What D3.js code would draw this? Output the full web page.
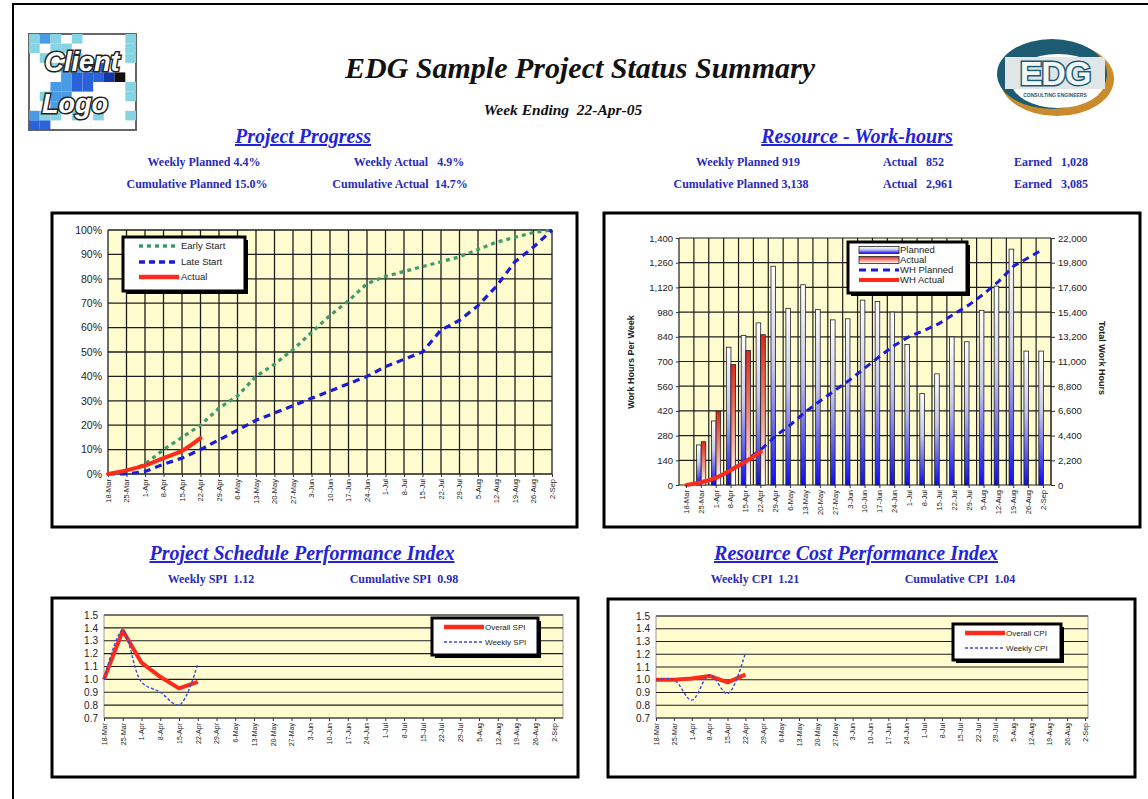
<!DOCTYPE html>
<html>
<head>
<meta charset="utf-8">
<script src="https://cdn.jsdelivr.net/npm/d3@7"></script>
<style>
  body { margin: 0; background: #fff; }
  svg { display: block; }
</style>
</head>
<body>
<script>
// ---- data ----
const weeks = ['18-Mar','25-Mar','1-Apr','8-Apr','15-Apr','22-Apr','29-Apr','6-May','13-May','20-May','27-May','3-Jun','10-Jun','17-Jun','24-Jun','1-Jul','8-Jul','15-Jul','22-Jul','29-Jul','5-Aug','12-Aug','19-Aug','26-Aug','2-Sep']

// project progress, % complete
const earlyStart = [0,1,4,10,15,20,27,32,40,45,51,58,65,71,78,81,83,85,87,89,92,95,97,99,100]
const lateStart = [0,0,1,4,6.5,10,14,18,22,25,28,31,34,37,40,44,47,50,59,63,69,77,87,93,100]
const actualPct = [0,1.5,3.5,6.5,9.5,14.7]

// work hours per week and totals
const plannedHrs = [0,227,363,781,848,919,1240,1000,1135,995,936,942,1048,1040,980,797,518,630,839,812,990,1127,1337,759,759]
const actualHrs = [0,245,418,683,763,852]
const whPlanned = [0,227,590,1371,2219,3138,4378,5378,6513,7508,8444,9386,10434,11474,12454,13251,13769,14399,15238,16050,17040,18167,19504,20263,21022]
const whActual = [0,245,663,1346,2109,2961]

// performance indices
const overallSPI = [1.0,1.38,1.13,1.02,0.93,0.98]
const weeklySPI = [1.0,1.38,0.98,0.90,0.80,1.12]
const overallCPI = [1.0,1.0,1.01,1.03,0.98,1.04]
const weeklyCPI = [1.0,1.0,0.84,1.04,0.89,1.21]

const pctTicks = [0,10,20,30,40,50,60,70,80,90,100]
const hrsTicks = [0,140,280,420,560,700,840,980,1120,1260,1400]
const totalTicks = [0,2200,4400,6600,8800,11000,13200,15400,17600,19800,22000]
const indexTicks = [0.7,0.8,0.9,1.0,1.1,1.2,1.3,1.4,1.5]

// header texts
const progressStats = [['Weekly Planned 4.4%','Weekly Actual   4.9%'],['Cumulative Planned 15.0%','Cumulative Actual  14.7%']]
const resourceStats = [['Weekly Planned 919','Actual   852','Earned   1,028'],['Cumulative Planned 3,138','Actual   2,961','Earned   3,085']]
const spiStats = ['Weekly SPI  1.12','Cumulative SPI  0.98']
const cpiStats = ['Weekly CPI  1.21','Cumulative CPI  1.04']

// ---- drawing ----
const W = 1148, H = 799
const SERIF = "'Liberation Serif','Times New Roman',serif"
const SANS = "'Liberation Sans',Arial,Helvetica,sans-serif"
const HEAD_BLUE = '#2323d9'
const STAT_BLUE = '#2a2ab8'
const PLOT_BG = '#fffdcf'
const GRID = '#1e1e1e'

const svg = d3.select('body').append('svg').attr('width', W).attr('height', H)
svg.append('rect').attr('width', W).attr('height', H).attr('fill', '#fff')
// page outline
svg.append('rect').attr('x', 13).attr('y', 4).attr('width', W).attr('height', H + 10)
   .attr('fill', 'none').attr('stroke', '#000').attr('stroke-width', 2)

const defs = svg.append('defs')
const gradP = defs.append('linearGradient').attr('id', 'gPlanned').attr('x1', 0).attr('y1', 0).attr('x2', 0).attr('y2', 1)
gradP.append('stop').attr('offset', '0%').attr('stop-color', '#ffffff')
gradP.append('stop').attr('offset', '45%').attr('stop-color', '#c8c8ef')
gradP.append('stop').attr('offset', '100%').attr('stop-color', '#0c0cf0')
const gradA = defs.append('linearGradient').attr('id', 'gActual').attr('x1', 0).attr('y1', 0).attr('x2', 0).attr('y2', 1)
gradA.append('stop').attr('offset', '0%').attr('stop-color', '#e0261a')
gradA.append('stop').attr('offset', '55%').attr('stop-color', '#f09a90')
gradA.append('stop').attr('offset', '100%').attr('stop-color', '#ffffff')

function frame(x0, y0, x1, y1) {
  svg.append('rect').attr('x', x0).attr('y', y0).attr('width', x1 - x0).attr('height', y1 - y0)
     .attr('fill', '#fff').attr('stroke', '#000').attr('stroke-width', 3)
}
function legendBox(x0, y0, x1, y1) {
  svg.append('rect').attr('x', x0 + 3).attr('y', y0 + 3).attr('width', x1 - x0).attr('height', y1 - y0).attr('fill', '#000')
  svg.append('rect').attr('x', x0).attr('y', y0).attr('width', x1 - x0).attr('height', y1 - y0)
     .attr('fill', '#fff').attr('stroke', '#000').attr('stroke-width', 3)
}
function heading(txt, x, y) {
  svg.append('text').attr('x', x).attr('y', y).attr('text-anchor', 'middle')
     .attr('font-family', SERIF).attr('font-size', 20).attr('font-weight', 'bold').attr('font-style', 'italic')
     .attr('fill', HEAD_BLUE).style('text-decoration', 'underline').text(txt)
}
function stat(txt, x, y, anchor) {
  svg.append('text').attr('x', x).attr('y', y).attr('text-anchor', anchor || 'middle')
     .attr('font-family', SERIF).attr('font-size', 12).attr('font-weight', 'bold')
     .attr('fill', STAT_BLUE).style('white-space', 'pre').text(txt)
}
function styleAxis(g, size) {
  g.select('.domain').remove()
  g.selectAll('.tick line').attr('stroke', '#333')
  g.selectAll('text').attr('font-family', SANS).attr('font-size', size).attr('fill', '#222')
}
function rotateLabels(g) {
  g.selectAll('text').attr('transform', 'rotate(-90)').attr('text-anchor', 'end')
   .attr('x', -5).attr('y', 0).attr('dy', '0.32em')
}

// ---- header ----
// client logo mosaic
const logoCells = [
  'cbc.c....c',
  'c.cc.....c',
  '.c..c....c',
  '..cbbmm...',
  '...bmmmdk.',
  '..bbmm...c',
  '.cbb.....c',
  '..b.......',
  'bcc.c.c..c',
  'mm........'
]
const cellColor = { c: '#86d3e3', b: '#4a9be6', m: '#2a62da', d: '#1534a8', k: '#111' }
const logo = svg.append('g').attr('transform', 'translate(29,34)')
logo.append('rect').attr('width', 107).attr('height', 96).attr('fill', '#fff').attr('stroke', '#666').attr('stroke-width', 2)
logoCells.forEach((row, r) => row.split('').forEach((ch, c) => {
  if (ch === '.') return
  logo.append('rect').attr('x', c * 10.7).attr('y', r * 9.6).attr('width', 10.7).attr('height', 9.6).attr('fill', cellColor[ch])
}))
logo.selectAll('text.lg').data([['Client', 53, 37], ['Logo', 46, 79]]).enter().append('text')
  .attr('x', d => d[1]).attr('y', d => d[2]).attr('text-anchor', 'middle')
  .attr('font-family', SANS).attr('font-weight', 'bold').attr('font-style', 'italic').attr('font-size', 27)
  .attr('fill', '#fff').attr('stroke', '#222').attr('stroke-width', 3).style('paint-order', 'stroke')
  .text(d => d[0])

// EDG logo
const edg = svg.append('g').attr('transform', 'translate(1055,77)')
edg.append('ellipse').attr('cx', 2).attr('cy', 2).attr('rx', 57).attr('ry', 37).attr('fill', '#c98b2c')
edg.append('ellipse').attr('cx', -3).attr('cy', -3).attr('rx', 55).attr('ry', 35).attr('fill', '#1d5b72')
edg.append('ellipse').attr('cx', 3).attr('cy', 4).attr('rx', 47).attr('ry', 27).attr('fill', '#fff')
edg.append('rect').attr('x', -50).attr('y', -20).attr('width', 100).attr('height', 32).attr('fill', '#dfe6e8')
edg.append('text').attr('x', 0).attr('y', 8).attr('text-anchor', 'middle')
   .attr('font-family', SANS).attr('font-weight', 'bold').attr('font-size', 34).attr('letter-spacing', -1)
   .attr('fill', '#f4f7f8').attr('stroke', '#1d5b72').attr('stroke-width', 3).style('paint-order', 'stroke').text('EDG')
edg.append('text').attr('x', 0).attr('y', 20).attr('text-anchor', 'middle')
   .attr('font-family', SANS).attr('font-weight', 'bold').attr('font-size', 5).attr('fill', '#1d5b72').text('CONSULTING ENGINEERS')

svg.append('text').attr('x', 580).attr('y', 78).attr('text-anchor', 'middle')
   .attr('font-family', SERIF).attr('font-size', 30).attr('font-weight', 'bold').attr('font-style', 'italic')
   .attr('fill', '#111').text('EDG Sample Project Status Summary')
svg.append('text').attr('x', 563).attr('y', 115).attr('text-anchor', 'middle')
   .attr('font-family', SERIF).attr('font-size', 15.5).attr('font-weight', 'bold').attr('font-style', 'italic')
   .attr('fill', '#111').style('white-space', 'pre').text('Week Ending  22-Apr-05')

heading('Project Progress', 303, 143)
heading('Resource - Work-hours', 857, 143)
stat(progressStats[0][0], 204, 166); stat(progressStats[0][1], 409, 166)
stat(progressStats[1][0], 197, 188); stat(progressStats[1][1], 400, 188)
stat(resourceStats[0][0], 748, 166); stat(resourceStats[0][1], 883, 166, 'start'); stat(resourceStats[0][2], 1014, 166, 'start')
stat(resourceStats[1][0], 741, 188); stat(resourceStats[1][1], 883, 188, 'start'); stat(resourceStats[1][2], 1014, 188, 'start')

heading('Project Schedule Performance Index', 302, 560)
heading('Resource Cost Performance Index', 856, 560)
stat(spiStats[0], 211, 583); stat(spiStats[1], 404, 583)
stat(cpiStats[0], 755, 583); stat(cpiStats[1], 960, 583)

// ---- chart 1: project progress ----
frame(52, 213, 577, 527)
const p1 = { left: 108, right: 552, top: 230, bottom: 474 }
const x1 = d3.scalePoint().domain(weeks).range([p1.left, p1.right])
const y1 = d3.scaleLinear().domain([0, 100]).range([p1.bottom, p1.top])
svg.append('rect').attr('x', p1.left).attr('y', p1.top).attr('width', p1.right - p1.left).attr('height', p1.bottom - p1.top).attr('fill', PLOT_BG)
svg.append('g').selectAll('line').data(pctTicks).enter().append('line')
   .attr('x1', p1.left).attr('x2', p1.right).attr('y1', d => y1(d)).attr('y2', d => y1(d))
   .attr('stroke', GRID).attr('stroke-width', 1.3)
svg.append('g').selectAll('line').data(weeks).enter().append('line')
   .attr('x1', d => x1(d)).attr('x2', d => x1(d)).attr('y1', p1.top).attr('y2', p1.bottom)
   .attr('stroke', GRID).attr('stroke-width', 1.3)
svg.append('g').attr('transform', `translate(${p1.left},0)`)
   .call(d3.axisLeft(y1).tickValues(pctTicks).tickFormat(d => d + '%').tickSize(0).tickPadding(6))
   .call(g => styleAxis(g, 10.5))
svg.append('g').attr('transform', `translate(0,${p1.bottom})`)
   .call(d3.axisBottom(x1).tickSize(3))
   .call(g => styleAxis(g, 7.5)).call(rotateLabels)

const line1 = d3.line().x((d, i) => x1(weeks[i])).y(d => y1(d))
svg.append('path').datum(earlyStart).attr('d', line1).attr('fill', 'none')
   .attr('stroke', '#3f9a6c').attr('stroke-width', 3.2).attr('stroke-dasharray', '4,4')
svg.append('path').datum(lateStart).attr('d', line1).attr('fill', 'none')
   .attr('stroke', '#1b1be0').attr('stroke-width', 3.2).attr('stroke-dasharray', '7,5')
svg.append('path').datum(actualPct).attr('d', line1.curve(d3.curveMonotoneX)).attr('fill', 'none')
   .attr('stroke', '#ff2a1a').attr('stroke-width', 4).attr('stroke-linecap', 'round')

legendBox(123, 237, 245, 291)
const leg1 = [['Early Start', '#3f9a6c', '4,4', 3.5, 246], ['Late Start', '#1b1be0', '6,4', 3.5, 262], ['Actual', '#ff2a1a', null, 4.5, 277]]
leg1.forEach(d => {
  svg.append('line').attr('x1', 139).attr('x2', 179).attr('y1', d[4]).attr('y2', d[4])
     .attr('stroke', d[1]).attr('stroke-width', d[3]).attr('stroke-dasharray', d[2])
  svg.append('text').attr('x', 181).attr('y', d[4]).attr('dy', '0.35em').attr('font-family', SANS)
     .attr('font-size', 9.5).attr('fill', '#222').text(d[0])
})

// ---- chart 2: resource work-hours ----
frame(604, 213, 1140, 527)
const p2 = { left: 679, right: 1051, top: 238, bottom: 485 }
const x2 = d3.scaleBand().domain(weeks).range([p2.left, p2.right])
const y2 = d3.scaleLinear().domain([0, 1400]).range([p2.bottom, p2.top])
const y2r = d3.scaleLinear().domain([0, 22000]).range([p2.bottom, p2.top])
const bw = x2.bandwidth()
svg.append('rect').attr('x', p2.left).attr('y', p2.top).attr('width', p2.right - p2.left).attr('height', p2.bottom - p2.top).attr('fill', PLOT_BG)
svg.append('g').selectAll('line').data(hrsTicks).enter().append('line')
   .attr('x1', p2.left).attr('x2', p2.right).attr('y1', d => y2(d)).attr('y2', d => y2(d))
   .attr('stroke', GRID).attr('stroke-width', 1.2)
svg.append('g').selectAll('line').data(weeks.concat(['end'])).enter().append('line')
   .attr('x1', d => d === 'end' ? p2.right : x2(d)).attr('x2', d => d === 'end' ? p2.right : x2(d))
   .attr('y1', p2.top).attr('y2', p2.bottom)
   .attr('stroke', GRID).attr('stroke-width', 1.2)

svg.append('g').selectAll('rect').data(plannedHrs).enter().append('rect')
   .attr('x', (d, i) => x2(weeks[i]) + 2.7).attr('width', 4.6)
   .attr('y', d => y2(d)).attr('height', d => p2.bottom - y2(d))
   .attr('fill', 'url(#gPlanned)').attr('stroke', '#222').attr('stroke-width', 0.8)
   .style('display', d => d > 0 ? null : 'none')
svg.append('g').selectAll('rect').data(actualHrs).enter().append('rect')
   .attr('x', (d, i) => x2(weeks[i]) + 7.3).attr('width', 4.6)
   .attr('y', d => y2(d)).attr('height', d => p2.bottom - y2(d))
   .attr('fill', 'url(#gActual)').attr('stroke', '#222').attr('stroke-width', 0.8)
   .style('display', d => d > 0 ? null : 'none')

const line2 = d3.line().x((d, i) => x2(weeks[i]) + bw / 2).y(d => y2r(d))
svg.append('path').datum(whPlanned).attr('d', line2).attr('fill', 'none')
   .attr('stroke', '#1b1be0').attr('stroke-width', 3).attr('stroke-dasharray', '7,5')
svg.append('path').datum(whActual).attr('d', line2.curve(d3.curveMonotoneX)).attr('fill', 'none')
   .attr('stroke', '#ff2a1a').attr('stroke-width', 4).attr('stroke-linecap', 'round')

svg.append('g').attr('transform', `translate(${p2.left},0)`)
   .call(d3.axisLeft(y2).tickValues(hrsTicks).tickFormat(d3.format(',')).tickSize(3).tickPadding(3))
   .call(g => styleAxis(g, 9.5))
svg.append('g').attr('transform', `translate(${p2.right},0)`)
   .call(d3.axisRight(y2r).tickValues(totalTicks).tickFormat(d3.format(',')).tickSize(4).tickPadding(3))
   .call(g => styleAxis(g, 9.5))
svg.append('line').attr('x1', p2.right).attr('x2', p2.right).attr('y1', p2.top).attr('y2', p2.bottom).attr('stroke', '#333')
svg.append('g').attr('transform', `translate(0,${p2.bottom})`)
   .call(d3.axisBottom(x2).tickSize(3))
   .call(g => styleAxis(g, 7.5)).call(rotateLabels)

svg.append('text').attr('transform', 'translate(634,362) rotate(-90)').attr('text-anchor', 'middle')
   .attr('font-family', SANS).attr('font-size', 9).attr('font-weight', 'bold').attr('fill', '#222').text('Work Hours Per Week')
svg.append('text').attr('transform', 'translate(1099,358) rotate(90)').attr('text-anchor', 'middle')
   .attr('font-family', SANS).attr('font-size', 9).attr('font-weight', 'bold').attr('fill', '#222').text('Total Work Hours')

legendBox(848, 242, 967, 293)
const leg2 = [['Planned', 'bar', 'url(#gPlanned)', 250], ['Actual', 'bar', 'url(#gActual)', 260], ['WH Planned', 'dash', '#1b1be0', 270], ['WH Actual', 'line', '#ff2a1a', 280]]
leg2.forEach(d => {
  if (d[1] === 'bar') {
    svg.append('rect').attr('x', 859).attr('y', d[3] - 3.5).attr('width', 40).attr('height', 7)
       .attr('fill', d[2]).attr('stroke', '#222').attr('stroke-width', 0.8)
  } else {
    svg.append('line').attr('x1', 859).attr('x2', 899).attr('y1', d[3]).attr('y2', d[3])
       .attr('stroke', d[2]).attr('stroke-width', d[1] === 'dash' ? 3 : 4).attr('stroke-dasharray', d[1] === 'dash' ? '7,5' : null)
  }
  svg.append('text').attr('x', 900).attr('y', d[3]).attr('dy', '0.35em').attr('font-family', SANS)
     .attr('font-size', 9.5).attr('fill', '#222').text(d[0])
})

// ---- charts 3 and 4: performance indices ----
function perfChart(o) {
  frame(o.fx0, o.fy0, o.fx1, o.fy1)
  const x = d3.scalePoint().domain(weeks).range([o.left, o.lastX])
  const y = d3.scaleLinear().domain([0.7, 1.5]).range([o.bottom, o.top])
  svg.append('rect').attr('x', o.left).attr('y', o.top).attr('width', o.right - o.left).attr('height', o.bottom - o.top)
     .attr('fill', PLOT_BG).attr('stroke', '#999').attr('stroke-width', 1)
  svg.append('g').selectAll('line').data(indexTicks).enter().append('line')
     .attr('x1', o.left).attr('x2', o.right).attr('y1', d => y(d)).attr('y2', d => y(d))
     .attr('stroke', GRID).attr('stroke-width', 1.2)
  svg.append('g').attr('transform', `translate(${o.left},0)`)
     .call(d3.axisLeft(y).tickValues(indexTicks).tickFormat(d3.format('.1f')).tickSize(0).tickPadding(6))
     .call(g => styleAxis(g, 10))
  svg.append('g').attr('transform', `translate(0,${o.bottom})`)
     .call(d3.axisBottom(x).tickSize(3))
     .call(g => styleAxis(g, 7)).call(rotateLabels)
  const ln = d3.line().x((d, i) => x(weeks[i])).y(d => y(d))
  svg.append('path').datum(o.overall).attr('d', ln).attr('fill', 'none')
     .attr('stroke', '#ff2a1a').attr('stroke-width', 4).attr('stroke-linejoin', 'round')
  svg.append('path').datum(o.weekly).attr('d', ln.curve(d3.curveCatmullRom)).attr('fill', 'none')
     .attr('stroke', '#3848d8').attr('stroke-width', 1.4).attr('stroke-dasharray', '3,2')
  legendBox(o.lx0, o.ly0, o.lx1, o.ly1)
  const rows = [[o.names[0], o.ly0 + 9], [o.names[1], o.ly0 + 24]]
  svg.append('line').attr('x1', o.lx0 + 12).attr('x2', o.lx0 + 52).attr('y1', rows[0][1]).attr('y2', rows[0][1])
     .attr('stroke', '#ff2a1a').attr('stroke-width', 4.5)
  svg.append('line').attr('x1', o.lx0 + 12).attr('x2', o.lx0 + 52).attr('y1', rows[1][1]).attr('y2', rows[1][1])
     .attr('stroke', '#3848d8').attr('stroke-width', 1.5).attr('stroke-dasharray', '3,2')
  rows.forEach(r => svg.append('text').attr('x', o.lx0 + 53).attr('y', r[1]).attr('dy', '0.35em')
     .attr('font-family', SANS).attr('font-size', 8).attr('fill', '#222').text(r[0]))
}

perfChart({
  fx0: 52, fy0: 598, fx1: 578, fy1: 777,
  left: 104, right: 563, lastX: 554, top: 615, bottom: 718,
  lx0: 432, ly0: 618, lx1: 538, ly1: 655,
  overall: overallSPI, weekly: weeklySPI, names: ['Overall SPI', 'Weekly SPI']
})
perfChart({
  fx0: 608, fy0: 599, fx1: 1135, fy1: 777,
  left: 656, right: 1088, lastX: 1085, top: 616, bottom: 718,
  lx0: 953, ly0: 624, lx1: 1061, ly1: 660,
  overall: overallCPI, weekly: weeklyCPI, names: ['Overall CPI', 'Weekly CPI']
})
</script>
</body>
</html>
